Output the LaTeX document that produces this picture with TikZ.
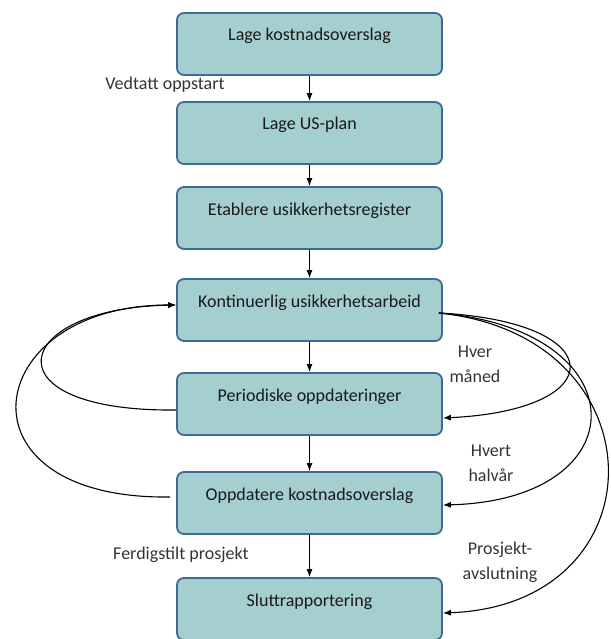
\documentclass[tikz,border=0pt]{standalone}
\usepackage{fontspec}
\setmainfont{Carlito}
\usetikzlibrary{arrows.meta}
\definecolor{boxfill}{RGB}{165,206,207}
\definecolor{boxline}{RGB}{62,106,150}
\definecolor{txt}{RGB}{25,25,25}
\definecolor{lbl}{RGB}{55,50,50}
\begin{document}
\begin{tikzpicture}[x=1pt,y=-1pt,
  stepbox/.style={draw=boxline,line width=1.8pt,fill=boxfill,rounded corners=7pt,
    minimum width=265pt,inner xsep=0pt,inner ysep=0pt,text height=28pt,text depth=34pt,
    font=\fontsize{18}{20}\selectfont,text=txt},
  lab/.style={font=\fontsize{18}{25}\selectfont,text=lbl,align=center},
  flow/.style={-{Latex[length=8pt,width=6pt]},line width=1pt,black},
  loop/.style={-{Latex[length=8pt,width=6pt]},line width=1.1pt,black}]
\useasboundingbox (0,0) rectangle (610,639);
\node[stepbox] (b1) at (309.5,44) {Lage kostnadsoverslag};
\node[stepbox] (b2) at (309.5,133) {Lage US-plan};
\node[stepbox] (b3) at (309.5,218) {Etablere usikkerhetsregister};
\node[stepbox] (b4) at (309.5,310) {Kontinuerlig usikkerhetsarbeid};
\node[stepbox] (b5) at (309.5,404) {Periodiske oppdateringer};
\node[stepbox] (b6) at (309.5,503) {Oppdatere kostnadsoverslag};
\node[stepbox] (b7) at (309.5,609) {Sluttrapportering};
\draw[flow] (b1) -- (b2);
\draw[flow] (b2) -- (b3);
\draw[flow] (b3) -- (b4);
\draw[flow] (b4) -- (b5);
\draw[flow] (b5) -- (b6);
\draw[flow] (b6) -- (b7);
\node[lab] (l1) at (165,85) {Vedtatt oppstart};
\node[lab] (l2) at (181,555) {Ferdigstilt prosjekt};
\node[lab] (l3) at (475,364) {Hver\\måned};
\node[lab] (l4) at (491,463) {Hvert\\halvår};
\node[lab] (l5) at (500,562) {Prosjekt-\\avslutning};
% left loops
\draw[loop] ([yshift=-6pt]b5.west) .. controls (-15,412) and (10,308) .. ([yshift=5pt]b4.west);
\draw[loop] ([xshift=-6pt,yshift=6pt]b6.west) .. controls (-50,500) and (-20,305) .. ([yshift=5pt]b4.west);
% right loops
\coordinate (rs) at ([xshift=-4pt,yshift=-3pt]b4.east);
\draw[loop] (rs) .. controls (612,322) and (612,410) .. ([yshift=-14pt]b5.east);
\draw[loop] (rs) .. controls (640,330) and (640,500) .. ([yshift=-2pt]b6.east);
\draw[loop] (rs) .. controls (663,336) and (663,605) .. ([yshift=-4pt]b7.east);
\end{tikzpicture}
\end{document}
